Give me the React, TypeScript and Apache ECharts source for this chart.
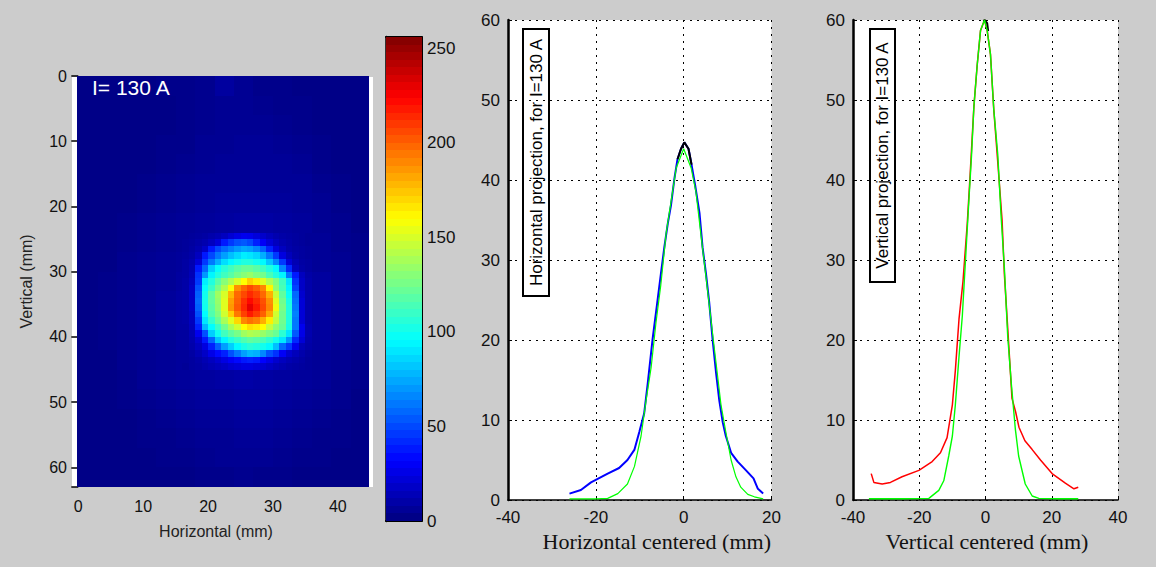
import React, { useEffect, useRef } from "react";
import * as echarts from "echarts";

const coarseX = [0, 3, 6, 9, 12, 15, 18, 21, 24, 27, 30, 33, 36, 39, 42];
const coarseY = [0, 3, 6, 9, 12, 15, 18, 21, 24, 27, 30, 33, 36, 39, 42, 45, 48, 51, 54, 57, 60];
const coarseValues = [
  [2, 2, 2, 2, 3, 3, 4, 8, 5, 3, 3, 2, 2, 2, 2],
  [2, 2, 2, 2, 2, 3, 4, 5, 5, 4, 3, 3, 2, 2, 2],
  [2, 2, 2, 2, 2, 3, 4, 5, 5, 5, 4, 3, 2, 2, 2],
  [2, 2, 2, 2, 3, 3, 5, 5, 6, 6, 5, 4, 3, 2, 2],
  [2, 2, 2, 2, 3, 4, 5, 6, 6, 6, 6, 5, 3, 2, 2],
  [2, 2, 2, 3, 4, 5, 6, 6, 6, 6, 6, 6, 4, 3, 2],
  [2, 2, 2, 3, 4, 5, 6, 7, 7, 7, 7, 6, 5, 3, 2],
  [2, 2, 3, 4, 5, 6, 7, 8, 9, 9, 8, 7, 5, 4, 2],
  [2, 2, 3, 4, 5, 6, 7, 10, 14, 12, 9, 7, 6, 4, 3],
  [2, 2, 4, 5, 6, 7, 9, 14, 20, 18, 10, 8, 6, 5, 3],
  [2, 3, 4, 5, 6, 8, 10, 20, 20, 20, 12, 9, 8, 5, 3],
  [2, 3, 4, 5, 7, 9, 10, 20, 20, 20, 12, 9, 8, 5, 3],
  [2, 3, 4, 5, 7, 9, 10, 20, 20, 20, 12, 9, 8, 5, 3],
  [2, 3, 4, 5, 6, 8, 9, 12, 20, 16, 11, 9, 8, 5, 3],
  [2, 2, 4, 5, 6, 7, 8, 10, 12, 11, 9, 8, 6, 5, 3],
  [2, 2, 3, 5, 6, 7, 8, 9, 10, 9, 8, 7, 6, 4, 3],
  [2, 2, 3, 4, 5, 6, 7, 7, 8, 8, 7, 6, 5, 4, 2],
  [2, 2, 2, 3, 4, 5, 6, 6, 7, 7, 6, 5, 4, 3, 2],
  [2, 2, 2, 3, 3, 4, 5, 5, 6, 6, 5, 4, 3, 3, 2],
  [2, 2, 2, 2, 3, 3, 4, 5, 5, 5, 4, 3, 3, 2, 2],
  [2, 2, 2, 2, 2, 2, 3, 3, 4, 3, 3, 2, 2, 2, 2],
];

const spotX = [16, 17, 18, 19, 20, 21, 22, 23, 24, 25, 26, 27, 28, 29, 30, 31, 32, 33, 34, 35];
const spotY = [24, 25, 26, 27, 28, 29, 30, 31, 32, 33, 34, 35, 36, 37, 38, 39, 40, 41, 42, 43, 44];
const spotValues = [
  [6, 7, 8, 9, 11, 13, 16, 21, 25, 28, 27, 23, 19, 15, 12, 10, 9, 8, 7, 6],
  [7, 8, 10, 12, 16, 22, 38, 46, 52, 54, 50, 40, 30, 22, 16, 12, 10, 8, 7, 6],
  [7, 9, 12, 18, 38, 50, 58, 64, 70, 74, 72, 66, 56, 40, 24, 16, 11, 9, 8, 7],
  [8, 10, 16, 38, 50, 62, 72, 80, 86, 92, 90, 86, 76, 62, 46, 24, 15, 10, 8, 7],
  [9, 12, 22, 46, 62, 76, 88, 95, 100, 104, 104, 100, 95, 82, 66, 46, 22, 13, 9, 8],
  [9, 13, 38, 58, 84, 97, 106, 112, 118, 122, 122, 118, 112, 104, 95, 66, 42, 16, 10, 8],
  [9, 14, 44, 70, 94, 104, 112, 118, 125, 130, 134, 128, 125, 114, 104, 94, 62, 38, 16, 10],
  [10, 16, 46, 92, 104, 118, 130, 140, 150, 160, 172, 165, 152, 140, 128, 112, 90, 44, 18, 11],
  [10, 18, 52, 97, 110, 126, 140, 158, 188, 198, 206, 200, 190, 162, 132, 114, 94, 48, 18, 11],
  [10, 18, 56, 100, 120, 136, 150, 178, 198, 206, 214, 208, 198, 180, 146, 120, 98, 58, 20, 11],
  [10, 18, 58, 101, 120, 134, 152, 184, 200, 212, 222, 214, 204, 188, 152, 124, 102, 60, 22, 11],
  [10, 18, 56, 100, 118, 132, 152, 186, 202, 214, 230, 218, 206, 190, 156, 126, 104, 62, 22, 11],
  [10, 16, 52, 96, 116, 128, 148, 172, 194, 208, 218, 210, 200, 182, 148, 124, 104, 64, 22, 11],
  [10, 16, 46, 90, 108, 122, 138, 152, 170, 190, 196, 192, 180, 164, 144, 124, 104, 62, 22, 11],
  [9, 15, 40, 78, 96, 110, 124, 138, 148, 160, 168, 165, 160, 145, 132, 122, 102, 62, 28, 12],
  [8, 13, 28, 52, 84, 100, 112, 120, 126, 136, 140, 138, 134, 128, 122, 107, 90, 54, 26, 12],
  [8, 12, 20, 38, 58, 82, 94, 104, 110, 116, 120, 118, 114, 108, 100, 90, 70, 42, 22, 11],
  [8, 11, 16, 24, 40, 56, 72, 84, 95, 102, 106, 104, 100, 95, 80, 58, 46, 28, 14, 10],
  [7, 9, 13, 18, 26, 34, 40, 52, 62, 72, 78, 76, 66, 52, 44, 30, 20, 15, 11, 8],
  [7, 8, 10, 13, 16, 20, 25, 30, 34, 38, 40, 38, 32, 26, 20, 16, 13, 11, 9, 7],
  [6, 8, 9, 11, 13, 15, 17, 20, 22, 24, 24, 22, 20, 17, 14, 12, 10, 9, 8, 7],
];

const horizontalProfile = [
  [-26, 0.8], [-23.4, 1.25], [-21.1, 2.2], [-17.3, 3.3], [-14.7, 4.0], [-12.8, 5.0], [-11.2, 6.3], [-10.1, 8.5],
  [-9, 10.8], [-8.2, 14.5], [-7.1, 20], [-6.1, 24.3], [-5.2, 28.2], [-4.4, 31.6], [-3.6, 34.6], [-2.9, 36.8],
  [-2.1, 40.2], [-1.4, 42.6], [-0.6, 43.9], [0.15, 44.7], [1.1, 43.9], [1.8, 41.9], [2.6, 39.4], [3.6, 35.9],
  [4.3, 31.6], [5.1, 28.2], [5.8, 24.8], [6.6, 20], [7.4, 15.8], [8.1, 12.5], [8.9, 9.7], [9.6, 8], [10.8, 5.9],
  [12.3, 4.8], [14.2, 3.7], [15.9, 2.7], [16.9, 1.4], [18.1, 0.8],
];
const horizontalCore = [
  [-1.4, 42.6], [-0.6, 43.9], [0.15, 44.7], [1.1, 43.9], [1.8, 41.9],
];
const horizontalFit = [
  [-26, 0.15], [-20, 0.15], [-17.3, 0.2], [-15, 0.8], [-12.8, 2], [-11.2, 4.2], [-9.7, 8], [-8.6, 12.3], [-7.4, 16.6],
  [-6.3, 22.2], [-5.2, 26.9], [-4, 33.3], [-2.9, 37.2], [-1.7, 41.5], [0, 43.9], [1.7, 41.5], [2.8, 38.5], [3.9, 33.3],
  [5.1, 27.8], [6.2, 22.6], [7.4, 17], [8.5, 11.9], [9.6, 8.5], [10.8, 5], [11.9, 2.9], [13, 1.6], [14.6, 0.7],
  [16.1, 0.4], [18.1, 0.15],
];
const verticalProfile = [
  [-34.5, 3.3], [-33.7, 2.2], [-31.2, 2.0], [-28.7, 2.2], [-25.2, 2.9], [-20.1, 3.7], [-16.1, 4.8], [-13.6, 5.9],
  [-11.6, 7.8], [-10, 11.9], [-9.1, 16.2], [-8, 22.6], [-6.8, 27.3], [-5.5, 34.6], [-4.7, 40.2], [-3.5, 49.2],
  [-2.5, 54.4], [-1.5, 58.7], [-0.3, 60], [0.5, 58.7], [1.5, 55.7], [2.5, 48.8], [4, 40.6], [5, 35], [5.7, 28.2],
  [6.6, 22.2], [8, 12.7], [9.1, 11], [10.1, 9.1], [11.9, 7.4], [14.1, 6.3], [16.6, 5], [20.1, 3.3], [24.1, 2.1],
  [26.7, 1.4], [28, 1.6],
];
const verticalCore = [[-0.6, 59.8], [-0.3, 60], [0.5, 59.6], [0.8, 58.6]];
const verticalFit = [
  [-35.2, 0.15], [-25, 0.15], [-17.1, 0.2], [-14.1, 1.2], [-12.6, 2.4], [-11.1, 5.5], [-10, 8], [-9.1, 11.9], [-8, 17.9],
  [-7, 23], [-6, 30.3], [-5, 37.6], [-4.2, 43.2], [-3.5, 49.2], [-2.5, 54.4], [-1.5, 58.7], [-0.3, 60], [0.5, 58.7],
  [1.5, 55.7], [2.5, 48.8], [3.7, 43.2], [4.7, 35.5], [5.7, 29], [6.7, 20.5], [7.8, 14.5], [9, 8.9], [10, 5.5],
  [12, 2], [14.1, 0.5], [16.1, 0.2], [22, 0.15], [28, 0.15],
];

const colorLevels = Array.from({ length: 64 }, (_, i) => i);
const heatXTicks = [0, 10, 20, 30, 40];
const heatYTicks = [0, 10, 20, 30, 40, 50, 60];
const barTicks = [0, 50, 100, 150, 200, 250];

const clamp = (n: number) => Math.max(0, Math.min(1, n));
const jet = (v: number) => {
  const t = v / 256;
  const r = clamp(Math.min(4 * t - 1.5, -4 * t + 4.5));
  const g = clamp(Math.min(4 * t - 0.5, -4 * t + 3.5));
  const b = clamp(Math.min(4 * t + 0.5, -4 * t + 2.5));
  return `rgb(${Math.round(r * 255)},${Math.round(g * 255)},${Math.round(b * 255)})`;
};

const renderCell = (_: any, api: any) => {
  const a = api.coord([api.value(0), api.value(1)]);
  const b = api.coord([api.value(2), api.value(3)]);
  const x = Math.round(a[0]);
  const y = Math.round(a[1]);
  const x2 = Math.round(b[0]);
  const y2 = Math.round(b[1]);
  const lowY = Math.min(y, y2);
  return {
    type: "rect",
    shape: { x, y: lowY, width: x2 - x, height: Math.abs(y2 - y) },
    style: { fill: jet(api.value(4)) },
  };
};

const SANS = "'Liberation Sans', Arial, sans-serif";
const SERIF = "'Liberation Serif', 'Times New Roman', serif";

export default function App() {
  const ref = useRef<HTMLDivElement>(null);
  useEffect(() => {
    const chart = echarts.init(ref.current!, undefined, { renderer: "svg" });

    const cells: number[][] = [];
    coarseValues.forEach((row, j) =>
      row.forEach((v, i) =>
        cells.push([
          i === 0 ? -0.2 : coarseX[i],
          coarseY[j],
          Math.min(coarseX[i] + 3, 44.8),
          j === coarseY.length - 1 ? 63 : coarseY[j + 1],
          v,
        ])
      )
    );
    spotValues.forEach((row, j) =>
      row.forEach((v, i) => cells.push([spotX[i], spotY[j], spotX[i] + 1, spotY[j] + 1, v]))
    );
    const barCells = colorLevels.map((i) => [0, i * 4, 1, (i + 1) * 4, (i + 0.5) * 4]);

    const grid1 = (name: string, left: number, width: number, xMin: number, xMax: number, gridIndex: number, namePadding: number[]) => ({
      x: {
        type: "value", gridIndex, min: xMin, max: xMax, interval: 20, name,
        nameLocation: "middle", nameGap: 30,
        nameTextStyle: { fontFamily: SERIF, fontSize: 22, color: "#111", padding: namePadding },
        axisLine: { show: true, onZero: false, lineStyle: { color: "#000", width: 1.5 } },
        axisTick: { inside: true, length: 4, lineStyle: { color: "#000" } },
        axisLabel: { color: "#111", fontFamily: SANS, fontSize: 17, margin: 9 },
        splitLine: { show: true, lineStyle: { color: "#000", type: [2, 5], width: 1 } },
      },
      y: {
        type: "value", gridIndex, min: 0, max: 60, interval: 10,
        axisLine: { show: true, onZero: false, lineStyle: { color: "#000", width: 2.5 } },
        axisTick: { inside: true, length: 4, lineStyle: { color: "#000" } },
        axisLabel: { color: "#111", fontFamily: SANS, fontSize: 17, margin: 8 },
        splitLine: { show: true, lineStyle: { color: "#000", type: [2, 5], width: 1 } },
      },
      grid: { left, width, top: 20, height: 480, show: true, backgroundColor: "#fff", borderWidth: 0 },
    });
    const horiz = grid1("Horizontal centered (mm)", 508, 263.5, -40, 20, 2, [0, 0, 0, 34]);
    const vert = grid1("Vertical centered (mm)", 853, 265, -40, 40, 3, [0, 0, 0, 3]);

    const line = (data: number[][], color: string, width: number, idx: number, name: string) => ({
      type: "line", name, data, xAxisIndex: idx, yAxisIndex: idx, showSymbol: false, symbol: "none",
      lineStyle: { color, width }, silent: true, clip: false,
    });

    const box = (x: number, y: number, w: number, h: number, text: string, size: number) => ({
      type: "group",
      z: 100,
      children: [
        { type: "rect", shape: { x, y, width: w, height: h }, style: { fill: "#fff", stroke: "#000", lineWidth: 2 } },
        {
          type: "text", x: x + w / 2, y: y + h / 2, rotation: Math.PI / 2,
          style: { text, fontFamily: SANS, fontSize: size, fill: "#000", align: "center", verticalAlign: "middle" },
        },
      ],
    });

    chart.setOption({
      animation: false,
      backgroundColor: "#cccccc",
      grid: [
        { left: 77, width: 292, top: 76, height: 411, show: false },
        { left: 386, width: 36, top: 37, height: 484, show: false },
        horiz.grid,
        vert.grid,
      ],
      xAxis: [
        {
          type: "value", gridIndex: 0, min: -0.2, max: 44.8, name: "Horizontal (mm)", nameLocation: "middle", nameGap: 36,
          nameTextStyle: { fontFamily: SANS, fontSize: 16, color: "#222", padding: [0, 14, 0, 0] },
          axisLine: { show: false },
          axisTick: { show: true, length: 3, customValues: heatXTicks, lineStyle: { color: "#000" } },
          axisLabel: { customValues: heatXTicks, color: "#111", fontFamily: SANS, fontSize: 16, margin: 11 },
          splitLine: { show: false },
        },
        horiz.x,
        vert.x,
        {
          type: "value", gridIndex: 1, min: 0, max: 1, position: "bottom", splitNumber: 1,
          axisLine: { show: true, onZero: false, lineStyle: { color: "#000", width: 2 } },
          axisTick: { show: false }, axisLabel: { show: false }, splitLine: { show: false },
        },
        {
          type: "value", gridIndex: 1, min: 0, max: 1, position: "top", splitNumber: 1,
          axisLine: { show: true, onZero: false, lineStyle: { color: "#000", width: 2 } },
          axisTick: { show: false }, axisLabel: { show: false }, splitLine: { show: false },
        },
      ],
      yAxis: [
        {
          type: "value", gridIndex: 0, min: 0, max: 63, inverse: true, name: "Vertical (mm)", nameLocation: "middle", nameGap: 43,
          nameTextStyle: { fontFamily: SANS, fontSize: 16, color: "#222" },
          axisLine: { show: false },
          axisTick: { show: true, length: 7, customValues: [...heatYTicks, 63], lineStyle: { color: "#000", width: 1.5 } },
          axisLabel: { customValues: heatYTicks, color: "#111", fontFamily: SANS, fontSize: 16, margin: 10 },
          splitLine: { show: false },
        },
        horiz.y,
        vert.y,
        {
          type: "value", gridIndex: 1, min: 0, max: 256, position: "right",
          axisLine: { show: true, onZero: false, lineStyle: { color: "#000", width: 1 } },
          axisTick: { show: true, inside: true, length: 6, customValues: barTicks, lineStyle: { color: "#000" } },
          axisLabel: { customValues: barTicks, color: "#111", fontFamily: SANS, fontSize: 17, margin: 5, padding: [7, 0, 0, 0] },
          splitLine: { show: false },
        },
        {
          type: "value", gridIndex: 1, min: 0, max: 256, position: "left",
          axisLine: { show: true, onZero: false, lineStyle: { color: "#000", width: 2.5 } },
          axisTick: { show: true, inside: true, length: 3, customValues: barTicks, lineStyle: { color: "#000" } },
          axisLabel: { show: false },
          splitLine: { show: false },
        },
      ],
      series: [
        {
          type: "custom", name: "Image", xAxisIndex: 0, yAxisIndex: 0, renderItem: renderCell, data: cells,
          encode: { x: [0, 2], y: [1, 3] }, silent: true, clip: true, progressive: 0,
        },
        {
          type: "custom", name: "Colour bar", xAxisIndex: 3, yAxisIndex: 3, renderItem: renderCell, data: barCells,
          encode: { x: [0, 2], y: [1, 3] }, silent: true, clip: true, z: 1,
        },
        line(horizontalProfile, "#0000ff", 2, 1, "Horizontal projection"),
        line(horizontalCore, "#000000", 2, 1, "Horizontal core"),
        line(horizontalFit, "#00ff00", 1.2, 1, "Horizontal fit"),
        line(verticalProfile, "#ff0000", 1.5, 2, "Vertical projection"),
        line(verticalCore, "#000000", 2, 2, "Vertical core"),
        line(verticalFit, "#00ff00", 1.4, 2, "Vertical fit"),
      ],
      graphic: [
        { type: "rect", z: -1, shape: { x: 72, y: 77, width: 5, height: 410 }, style: { fill: "#fff" } },
        { type: "rect", z: -1, shape: { x: 368, y: 77, width: 5, height: 410 }, style: { fill: "#fff" } },
        {
          type: "text", z: 100, x: 92, y: 87,
          style: { text: "I= 130 A", fontFamily: SANS, fontSize: 21, fill: "#fff", align: "left", verticalAlign: "middle" },
        },
        box(523, 29, 26, 267, "Horizontal projection, for I=130 A", 17),
        box(870, 29, 25, 253, "Vertical projection, for I=130 A", 17),
      ],
    });
    return () => chart.dispose();
  }, []);
  return <div ref={ref} style={{ position: "fixed", left: 0, top: 0, width: 1156, height: 567 }} />;
}
